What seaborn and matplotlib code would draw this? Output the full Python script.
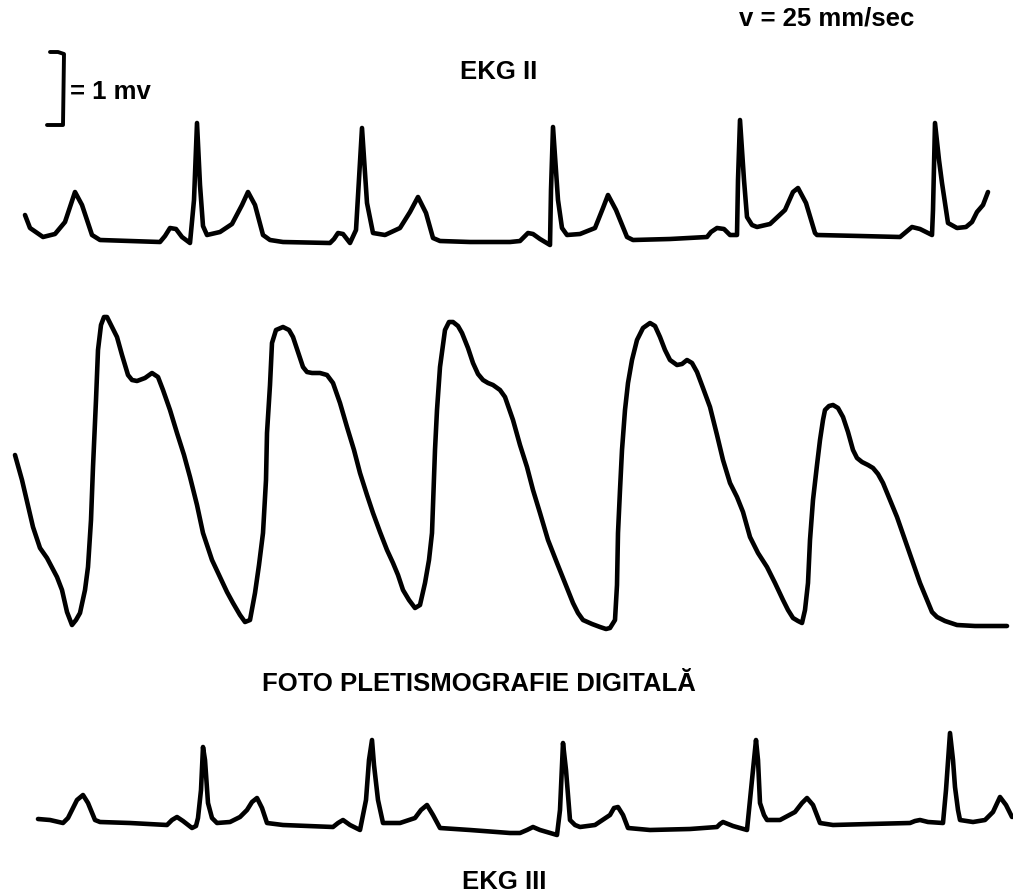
import matplotlib
matplotlib.use("Agg")
import matplotlib.pyplot as plt
import seaborn as sns
import pandas as pd

# ---- data: (x, y) points, pixel-like units, y grows downward ----
ekg2_pts = [(25, 215), (30, 228), (43, 237), (55, 234), (65, 222), (75, 192), (82, 205), (92, 235),
            (100, 240), (130, 241), (160, 242), (165, 236), (170, 228), (176, 229), (182, 237), (190, 243),
            (194, 200), (197, 123), (200, 185), (203, 226), (207, 235), (220, 232), (232, 224), (242, 205),
            (248, 192), (255, 205), (263, 235), (270, 240), (283, 242), (330, 243), (334, 239), (338, 233),
            (343, 234), (350, 243), (356, 230), (362, 128), (367, 203), (373, 233), (385, 235), (400, 228),
            (410, 212), (418, 197), (426, 213), (433, 238), (440, 241), (470, 242), (510, 242), (520, 241),
            (525, 236), (528, 233), (533, 234), (540, 239), (550, 245), (551, 190), (553, 127), (558, 200),
            (562, 228), (567, 235), (580, 234), (595, 228), (603, 208), (608, 195), (616, 210), (627, 237),
            (633, 240), (670, 239), (707, 237), (711, 232), (717, 228), (724, 229), (730, 235), (737, 235),
            (738, 180), (740, 120), (744, 180), (747, 217), (752, 225), (757, 227), (770, 224), (785, 210),
            (793, 192), (798, 188), (806, 203), (815, 233), (817, 235), (860, 236), (900, 237), (906, 232),
            (912, 227), (920, 229), (932, 235), (933, 210), (935, 123), (939, 160), (942, 183), (948, 223),
            (957, 228), (966, 227), (972, 222), (977, 212), (983, 205), (988, 192)]

ppg_pts = [(15, 455), (22, 480), (33, 527), (40, 548), (47, 558), (57, 577), (62, 590), (67, 612), (72, 625),
           (76, 620), (80, 613), (85, 590), (88, 567), (91, 520), (93, 467), (96, 400), (98, 350), (101, 325),
           (104, 317), (107, 317), (111, 325), (117, 337), (122, 355), (128, 375), (132, 380), (137, 381),
           (145, 378), (152, 373), (158, 377), (163, 390), (170, 410), (177, 433), (184, 455), (190, 477),
           (197, 505), (203, 533), (212, 560), (220, 577), (227, 592), (233, 603), (240, 615), (245, 622),
           (250, 620), (255, 593), (259, 565), (263, 533), (266, 480), (267, 433), (270, 385), (272, 343),
           (276, 330), (283, 327), (289, 330), (293, 337), (298, 352), (303, 367), (307, 372), (312, 373),
           (320, 373), (327, 375), (333, 383), (340, 403), (347, 427), (354, 450), (360, 473), (367, 495),
           (373, 513), (380, 532), (387, 550), (393, 563), (398, 575), (403, 590), (409, 600), (415, 608),
           (420, 605), (425, 583), (429, 560), (432, 533), (435, 450), (437, 410), (440, 367), (445, 330),
           (449, 322), (453, 322), (458, 326), (462, 333), (468, 348), (473, 363), (478, 374), (483, 380),
           (488, 383), (493, 385), (500, 390), (505, 397), (513, 420), (520, 445), (527, 467), (533, 490),
           (540, 513), (548, 540), (557, 563), (565, 583), (573, 603), (578, 613), (583, 620), (592, 624),
           (600, 627), (606, 629), (610, 628), (615, 620), (617, 585), (618, 533), (620, 490), (622, 450),
           (625, 410), (628, 383), (632, 360), (637, 340), (643, 328), (650, 323), (655, 326), (660, 337),
           (665, 350), (670, 360), (677, 365), (682, 364), (687, 360), (692, 363), (697, 372), (703, 388),
           (710, 407), (717, 435), (723, 460), (730, 483), (737, 497), (743, 512), (750, 537), (758, 553),
           (767, 567), (775, 583), (783, 600), (788, 610), (793, 618), (798, 621), (802, 623), (805, 610),
           (808, 583), (810, 540), (813, 500), (817, 465), (820, 440), (823, 420), (825, 410), (829, 406),
           (833, 405), (838, 408), (843, 417), (848, 432), (853, 450), (857, 458), (862, 462), (868, 465),
           (873, 468), (878, 474), (883, 483), (890, 500), (897, 517), (905, 540), (913, 563), (920, 583),
           (927, 600), (932, 612), (937, 617), (945, 621), (957, 625), (975, 626), (990, 626), (1007, 626)]

ekg3_pts = [(38, 819), (50, 820), (63, 823), (68, 818), (72, 810), (77, 800), (83, 795), (88, 803), (95, 820),
            (100, 822), (130, 823), (167, 825), (172, 820), (177, 817), (183, 821), (192, 828), (196, 826),
            (198, 818), (201, 790), (203, 747), (205, 760), (208, 803), (212, 818), (217, 823), (230, 822),
            (240, 817), (247, 810), (252, 802), (257, 798), (262, 808), (267, 823), (283, 825), (333, 827),
            (338, 823), (343, 820), (350, 825), (360, 830), (366, 800), (369, 760), (372, 740), (374, 765),
            (378, 800), (383, 823), (400, 823), (415, 818), (421, 810), (427, 805), (433, 815), (440, 828),
            (470, 830), (510, 833), (520, 833), (527, 830), (533, 827), (540, 830), (557, 835), (560, 810),
            (563, 743), (566, 770), (570, 820), (575, 825), (580, 827), (595, 825), (610, 815), (614, 808),
            (618, 807), (623, 815), (628, 828), (650, 830), (690, 829), (717, 827), (720, 824), (723, 822),
            (733, 826), (747, 830), (751, 790), (756, 740), (758, 760), (760, 803), (764, 815), (767, 820),
            (780, 820), (795, 812), (802, 803), (807, 798), (813, 805), (820, 823), (833, 825), (870, 824),
            (910, 823), (915, 821), (920, 820), (928, 822), (943, 823), (946, 790), (950, 733), (953, 760),
            (955, 787), (958, 810), (960, 820), (973, 822), (985, 820), (993, 812), (1000, 797), (1006, 805),
            (1012, 817)]

scale_pts = [(50, 52), (58, 52), (64, 54), (63, 125), (47, 125)]

labels = ["= 1 mv", "EKG II", "v = 25 mm/sec", "FOTO PLETISMOGRAFIE DIGITALĂ", "EKG III"]

# ---- figure ----
sns.set_theme(style="white")
plt.rcParams['font.family'] = ['Liberation Sans', 'DejaVu Sans']

fig = plt.figure(figsize=(10.13, 8.96), dpi=100)
ax = fig.add_axes([0, 0, 1, 1])

for pts, lw in [(ekg2_pts, 3.3), (ppg_pts, 3.3), (ekg3_pts, 3.3), (scale_pts, 2.8)]:
    df = pd.DataFrame(pts, columns=["x", "y"])
    sns.lineplot(data=df, x="x", y="y", sort=False, estimator=None, color='black', lw=lw, ax=ax,
                 solid_joinstyle='round', solid_capstyle='round')
ax.set_xlim(0, 1013)
ax.set_ylim(896, 0)
ax.axis('off')

tkw = dict(fontweight='bold', color='black', fontsize=18.5)
ax.text(70, 92, labels[0], ha='left', va='center', **tkw)
ax.text(499, 72, labels[1], ha='center', va='center', **tkw)
ax.text(827, 19, labels[2], ha='center', va='center', **tkw)
ax.text(479, 684, labels[3], ha='center', va='center', **tkw)
ax.text(504, 882, labels[4], ha='center', va='center', **tkw)

fig.savefig("out.png", dpi=100, facecolor='white')
